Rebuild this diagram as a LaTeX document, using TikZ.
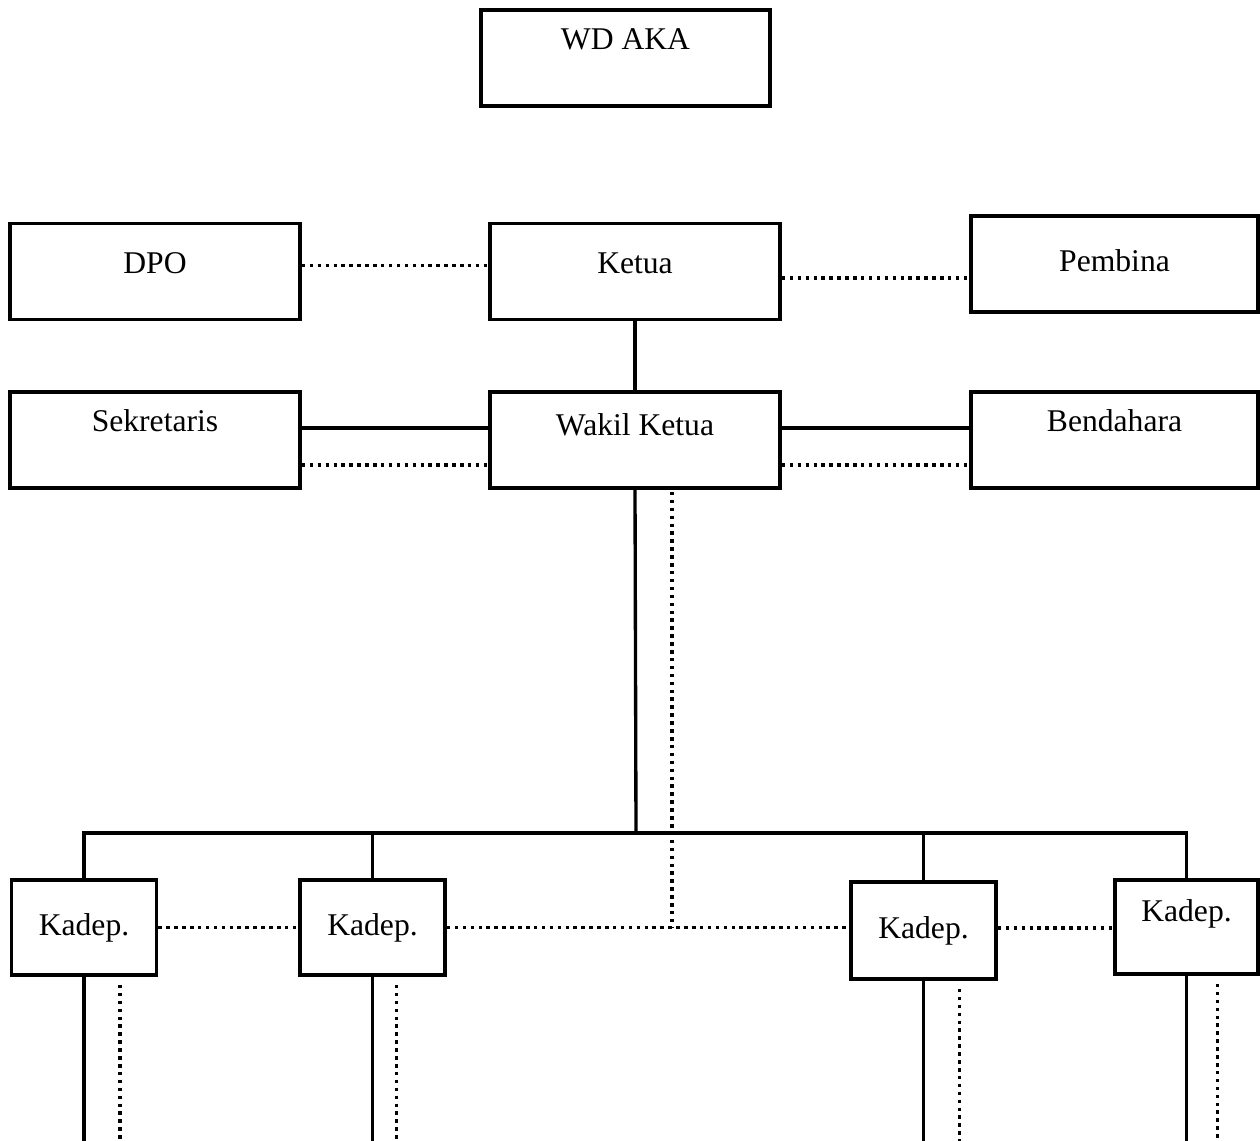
\documentclass[tikz,border=0pt]{standalone}
\usepackage{fontspec}
\setmainfont{Liberation Serif}
\usepackage{tikz}

\begin{document}
\begin{tikzpicture}[x=0.02cm,y=-0.02cm,
  box/.style={draw, line width=2.2pt, inner sep=0pt, text height=0.9em, text depth=0pt,
    font=\fontsize{18}{22}\selectfont},
  big/.style={box, minimum width=5.8cm, minimum height=1.92cm},
  small/.style={box, minimum width=2.9cm, minimum height=1.9cm},
  line/.style={line width=1.9pt},
  dotline/.style={line width=2pt, dash pattern=on 2pt off 2.5pt}]
\useasboundingbox (0,0) rectangle (1260,1141);
\node[big, minimum width=5.78cm, text depth=0.64cm](wd) at (625.5,58){WD AKA};
\node[big, text depth=0.24cm](dpo) at (155,271.5){DPO};
\node[big, text depth=0.24cm](ketua) at (635,271.5){Ketua};
\node[big, minimum width=5.74cm](pembina) at (1114.5,264){Pembina};
\node[big, text depth=0.64cm](sek) at (155,440){Sekretaris};
\node[big, text depth=0.48cm](wakil) at (635,440){Wakil Ketua};
\node[big, minimum width=5.74cm, text depth=0.64cm](bend) at (1114.5,440){Bendahara};
\node[small](k1) at (84,927.5){Kadep.};
\node[small](k2) at (372.5,927.5){Kadep.};
\node[small, minimum height=1.94cm](k3) at (923.5,930.5){Kadep.};
\node[small, minimum width=2.86cm, minimum height=1.88cm, text depth=0.52cm](k4) at (1186.5,927){Kadep.};
\coordinate (bus) at (636,833);
\coordinate (bot) at (0,1141);
\draw[dotline] ([yshift=0.12cm]dpo.east) coordinate (dk) -- (dk -| ketua.west);
\draw[dotline] ([yshift=-0.13cm]ketua.east) coordinate (kp) -- (kp -| pembina.west);
\draw[line] (ketua.south) -- (wakil.north);
\draw[line] ([yshift=0.24cm]sek.east) coordinate (sw) -- (sw -| wakil.west);
\draw[dotline] ([yshift=-0.5cm]sek.east) coordinate (sw2) -- (sw2 -| wakil.west);
\draw[line] ([yshift=0.24cm]wakil.east) coordinate (wb) -- (wb -| bend.west);
\draw[dotline] ([yshift=-0.5cm]wakil.east) coordinate (wb2) -- (wb2 -| bend.west);
\draw[line] (wakil.south) -- (bus);
\draw[line] (k1.north) -- (k1.north |- bus) -- (k4.north |- bus) -- (k4.north);
\draw[line] (k2.north) -- (k2.north |- bus);
\draw[line] (k3.north) -- (k3.north |- bus);
\draw[dotline] ([xshift=0.74cm,yshift=-0.04cm]wakil.south) coordinate (wk) -- (wk |- k2.east);
\draw[dotline] (k1.east) -- (k2.west);
\draw[dotline] (k2.east) -- (k2.east -| k3.west);
\draw[dotline] ([yshift=0.05cm]k3.east) coordinate (kk) -- (kk -| k4.west);
\foreach \k/\d in {k1/0.72,k2/0.48,k3/0.72,k4/0.62}{
  \draw[line] (\k.south) -- (\k.south |- bot);
  \draw[dotline] ([xshift=\d cm,yshift=-0.16cm]\k.south) coordinate (\k d) -- (\k d |- bot);
}
\end{tikzpicture}
\end{document}
